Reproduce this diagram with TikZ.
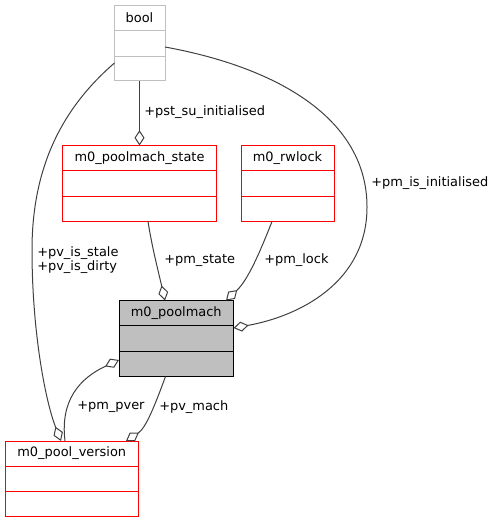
\documentclass[tikz,border=0pt]{standalone}
\usepackage{fontspec}
\setmainfont{DejaVu Sans}
\usetikzlibrary{arrows.meta,fit,calc}
\definecolor{edgegray}{HTML}{404040}
\definecolor{boolgray}{HTML}{BFBFBF}
\definecolor{mainfill}{HTML}{BFBFBF}
\tikzset{
  classbox/.style={rectangle, inner sep=0pt, line width=0.75pt},
  redbox/.style={classbox, draw=red},
  graybox/.style={classbox, draw=boolgray},
  mainbox/.style={classbox, draw=black, fill=mainfill},
  edge/.style={draw=edgegray, line width=0.75pt, -{Diamond[open, fill=white, length=11.5pt, width=7.5pt]}},
  lbl/.style={font=\fontsize{9.7}{11}\selectfont, anchor=west, inner sep=0pt},
  ttl/.style={font=\fontsize{9.7}{11}\selectfont, inner sep=0pt}
}
\newcommand{\umlcls}[7]{%
  \coordinate (#1-a) at (#2,#3);
  \coordinate (#1-b) at (#4,#5);
  \node[#7, fit=(#1-a)(#1-b)] (#1) {};
  \draw[#7] ($(#1.north west)!1/3!(#1.south west)$) -- ($(#1.north east)!1/3!(#1.south east)$);
  \draw[#7] ($(#1.north west)!2/3!(#1.south west)$) -- ($(#1.north east)!2/3!(#1.south east)$);
  \node[ttl] (#1-t) at ($(#1.north)!1/6!(#1.south)$) {#6};
}
\begin{document}
\begin{tikzpicture}[x=0.75pt,y=-0.75pt]
\useasboundingbox (0,0) rectangle (497,523);

\umlcls{bool}{114}{6}{165}{81}{bool}{graybox}
\umlcls{ps}{62.5}{146}{216.5}{221.5}{m0\_poolmach\_state}{redbox}
\umlcls{rw}{241}{146}{334}{221.5}{m0\_rwlock}{redbox}
\umlcls{pm}{119}{300.5}{233.5}{376.5}{m0\_poolmach}{mainbox}
\umlcls{pv}{5}{441}{138.5}{516.5}{m0\_pool\_version}{redbox}

\coordinate (e4s) at (165,47);
\coordinate (e4m) at (367,207);
\coordinate (e4e) at (233.5,328);
\coordinate (e5s) at (114.5,63);
\coordinate (e5m) at (32,250);
\coordinate (e5e) at (61,441);
\coordinate (e2s) at (148,221.5);
\coordinate (e2e) at (165,300.5);
\coordinate (e3s) at (272,221.5);
\coordinate (e3e) at (226,300.5);
\coordinate (e6s) at (65,441);
\coordinate (e6e) at (119,360);
\coordinate (e7s) at (165.5,376.5);
\coordinate (e7e) at (126,441);

\draw[edge] (bool.south) -- (ps.north);
\draw[edge] (e2s) .. controls (152,247) and (158,270) .. (e2e);
\draw[edge] (e3s) .. controls (260,252) and (248,280) .. (e3e);
\draw[edge] (e4s) .. controls (280,68) and (367,120) .. (e4m) .. controls (367,282) and (300,316) .. (e4e);
\draw[edge] (e5s) .. controls (60,110) and (32,170) .. (e5m) .. controls (32,330) and (45,400) .. (e5e);
\draw[edge] (e6s) .. controls (60,400) and (80,378) .. (e6e);
\draw[edge] (e7s) .. controls (155,405) and (146,428) .. (e7e);

\node[lbl] (l1) at (144,112) {+pst\_su\_initialised};
\node[lbl] (l2) at (164,260) {+pm\_state};
\node[lbl] (l3) at (264,260) {+pm\_lock};
\node[lbl] (l4) at (371,183) {+pm\_is\_initialised};
\node[lbl, align=left] (l5) at (37,260) {+pv\_is\_stale\\+pv\_is\_dirty};
\node[lbl] (l6) at (77,407) {+pm\_pver};
\node[lbl] (l7) at (159,407) {+pv\_mach};
\end{tikzpicture}
\end{document}
